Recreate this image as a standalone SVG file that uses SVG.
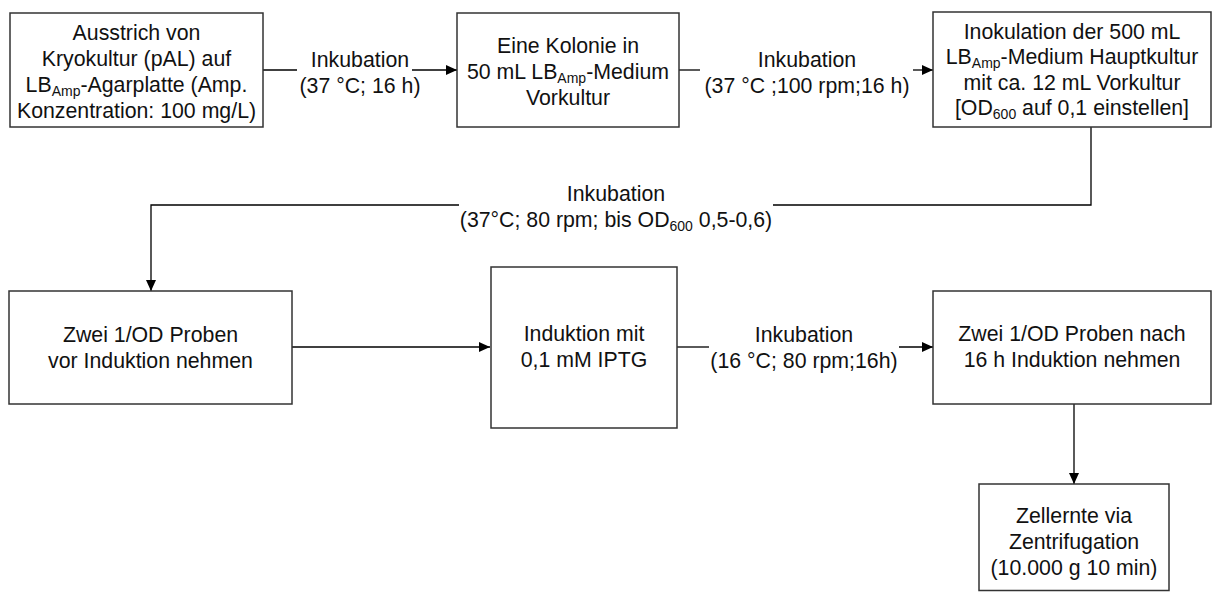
<svg xmlns="http://www.w3.org/2000/svg" width="1212" height="592" viewBox="0 0 1212 592">
  <style>
    .box { fill: #ffffff; stroke: #333333; stroke-width: 1.5; }
    .t { font-family: "Liberation Sans", Arial, sans-serif; font-size: 21.3px; fill: #111111; text-anchor: middle; }
    .sub { font-size: 14px; }
    .line { fill: none; stroke: #000000; stroke-width: 1.3; }
  </style>
  <defs>
    <marker id="arrow" markerUnits="userSpaceOnUse" markerWidth="12" markerHeight="10" refX="11" refY="5" orient="auto">
      <path d="M0,0 L11,5 L0,10 z" fill="#000000"/>
    </marker>
  </defs>

  <rect width="1212" height="592" fill="#ffffff"/>

  <!-- connectors and their labels -->
  <g id="connectors">
    <path class="line" d="M263,70 H297"/>
    <path class="line" d="M412,70 H457" marker-end="url(#arrow)"/>
    <path class="line" d="M679,70 H700"/>
    <path class="line" d="M913,70 H933" marker-end="url(#arrow)"/>
    <path class="line" d="M1091,127 V205 H773"/>
    <path class="line" d="M459,205 H151 V291" marker-end="url(#arrow)"/>
    <path class="line" d="M292,347 H490" marker-end="url(#arrow)"/>
    <path class="line" d="M677,347 H709"/>
    <path class="line" d="M899,347 H933" marker-end="url(#arrow)"/>
    <path class="line" d="M1074,404 V484" marker-end="url(#arrow)"/>

    <text class="t"><tspan x="360" y="67">Inkubation</tspan><tspan x="360" y="93">(37 °C; 16 h)</tspan></text>
    <text class="t"><tspan x="807" y="67">Inkubation</tspan><tspan x="807" y="93">(37 °C ;100 rpm;16 h)</tspan></text>
    <text class="t" x="616" y="201">Inkubation</text>
    <text class="t" x="616" y="227">(37°C; 80 rpm; bis OD<tspan class="sub" dy="4">600</tspan><tspan dy="-4"> 0,5-0,6)</tspan></text>
    <text class="t"><tspan x="804" y="342">Inkubation</tspan><tspan x="804" y="368">(16 °C; 80 rpm;16h)</tspan></text>
  </g>

  <g id="ausstrich">
    <rect class="box" x="10" y="13" width="253" height="114"/>
    <text class="t" x="136.5" y="39.5">Ausstrich von</text>
    <text class="t" x="136.5" y="65.5">Kryokultur (pAL) auf</text>
    <text class="t" x="136.5" y="91.5">LB<tspan class="sub" dy="4">Amp</tspan><tspan dy="-4">-Agarplatte (Amp.</tspan></text>
    <text class="t" x="136.5" y="117.5">Konzentration: 100 mg/L)</text>
  </g>

  <g id="vorkultur">
    <rect class="box" x="457" y="13" width="222" height="114"/>
    <text class="t" x="568" y="52.5">Eine Kolonie in</text>
    <text class="t" x="568" y="78.5">50 mL LB<tspan class="sub" dy="4">Amp</tspan><tspan dy="-4">-Medium</tspan></text>
    <text class="t" x="568" y="104.5">Vorkultur</text>
  </g>

  <g id="hauptkultur">
    <rect class="box" x="933" y="12" width="278" height="115"/>
    <text class="t" x="1072" y="38.5">Inokulation der 500 mL</text>
    <text class="t" x="1072" y="64">LB<tspan class="sub" dy="4">Amp</tspan><tspan dy="-4">-Medium Hauptkultur</tspan></text>
    <text class="t" x="1072" y="89.5">mit ca. 12 mL Vorkultur</text>
    <text class="t" x="1072" y="115">[OD<tspan class="sub" dy="4">600</tspan><tspan dy="-4"> auf 0,1 einstellen]</tspan></text>
  </g>

  <g id="proben-vor">
    <rect class="box" x="9" y="291" width="283" height="113"/>
    <text class="t" x="150.5" y="342">Zwei 1/OD Proben</text>
    <text class="t" x="150.5" y="368">vor Induktion nehmen</text>
  </g>

  <g id="induktion">
    <rect class="box" x="491" y="267" width="186" height="161"/>
    <text class="t" x="584" y="341">Induktion mit</text>
    <text class="t" x="584" y="367">0,1 mM IPTG</text>
  </g>

  <g id="proben-nach">
    <rect class="box" x="933" y="291" width="278" height="113"/>
    <text class="t" x="1072" y="341">Zwei 1/OD Proben nach</text>
    <text class="t" x="1072" y="367">16 h Induktion nehmen</text>
  </g>

  <g id="zellernte">
    <rect class="box" x="979" y="484" width="190" height="106.5"/>
    <text class="t" x="1074" y="523">Zellernte via</text>
    <text class="t" x="1074" y="549">Zentrifugation</text>
    <text class="t" x="1074" y="575">(10.000 g 10 min)</text>
  </g>
</svg>
